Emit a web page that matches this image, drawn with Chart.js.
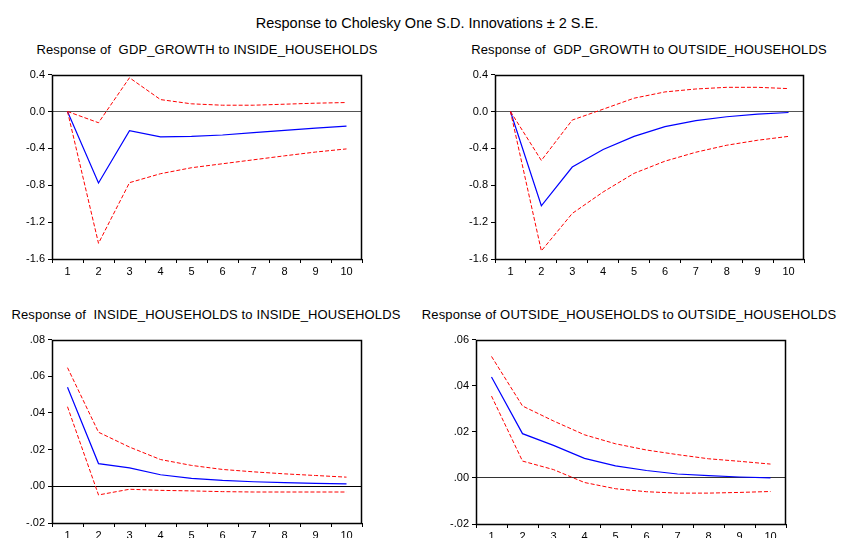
<!DOCTYPE html>
<html>
<head>
<meta charset="utf-8">
<script src="https://cdn.jsdelivr.net/npm/chart.js@4/dist/chart.umd.min.js"></script>
<style>
  html, body { margin: 0; padding: 0; background: #fff; }
  body { width: 841px; height: 538px; position: relative; overflow: hidden; font-family: "Liberation Sans", Arial, sans-serif; }
  .title { position: absolute; width: 500px; text-align: center; color: #000; white-space: pre; }
  .sub { font-size: 13px; line-height: 16px; letter-spacing: 0.15px; }
  canvas { position: absolute; }
</style>
</head>
<body>
<div class="title" style="left:177px; top:14px; font-size:14.5px; line-height:18px;">Response to Cholesky One S.D. Innovations ± 2 S.E.</div>
<div class="title sub" style="left:-43px; top:42px;">Response of  GDP_GROWTH to INSIDE_HOUSEHOLDS</div>
<div class="title sub" style="left:399px; top:42px;">Response of  GDP_GROWTH to OUTSIDE_HOUSEHOLDS</div>
<div class="title sub" style="left:-44px; top:307px;">Response of  INSIDE_HOUSEHOLDS to INSIDE_HOUSEHOLDS</div>
<div class="title sub" style="left:379px; top:307px;">Response of OUTSIDE_HOUSEHOLDS to OUTSIDE_HOUSEHOLDS</div>
<canvas id="c1"></canvas>
<canvas id="c2"></canvas>
<canvas id="c3"></canvas>
<canvas id="c4"></canvas>
<script>
// periods
const periods = ['1', '2', '3', '4', '5', '6', '7', '8', '9', '10'];

// GDP_GROWTH to INSIDE_HOUSEHOLDS
const gdpInside = [0, -0.776, -0.208, -0.276, -0.270, -0.255, -0.230, -0.205, -0.180, -0.158];
const gdpInsideUp = [0, -0.122, 0.366, 0.129, 0.083, 0.068, 0.068, 0.079, 0.090, 0.097];
const gdpInsideLo = [0, -1.430, -0.772, -0.675, -0.610, -0.567, -0.524, -0.481, -0.440, -0.406];

// GDP_GROWTH to OUTSIDE_HOUSEHOLDS
const gdpOutside = [0, -1.023, -0.603, -0.413, -0.270, -0.165, -0.100, -0.057, -0.029, -0.011];
const gdpOutsideUp = [0, -0.531, -0.093, 0.025, 0.144, 0.212, 0.244, 0.262, 0.262, 0.248];
const gdpOutsideLo = [0, -1.512, -1.106, -0.873, -0.671, -0.539, -0.442, -0.366, -0.312, -0.270];

// INSIDE_HOUSEHOLDS to INSIDE_HOUSEHOLDS
const inIn = [0.0540, 0.0124, 0.0101, 0.0063, 0.0043, 0.0032, 0.0025, 0.0020, 0.0016, 0.0013];
const inInUp = [0.0647, 0.0295, 0.0214, 0.0146, 0.0114, 0.0092, 0.0079, 0.0068, 0.0059, 0.0050];
const inInLo = [0.0434, -0.0047, -0.0016, -0.0022, -0.0025, -0.0029, -0.0031, -0.0031, -0.0031, -0.0031];

// OUTSIDE_HOUSEHOLDS to OUTSIDE_HOUSEHOLDS
const outOut = [0.0438, 0.0192, 0.0141, 0.0085, 0.0052, 0.0032, 0.0017, 0.0010, 0.0004, 0.0000];
const outOutUp = [0.0527, 0.0312, 0.0247, 0.0187, 0.0148, 0.0121, 0.0101, 0.0083, 0.0072, 0.0060];
const outOutLo = [0.0355, 0.0073, 0.0036, -0.0020, -0.0047, -0.0060, -0.0066, -0.0066, -0.0063, -0.0059];

// y axis ranges
const gdpTicks = { min: -1.6, max: 0.4, step: 0.4, digits: 1 };
const inTicks = { min: -0.02, max: 0.08, step: 0.02, digits: 2 };
const outTicks = { min: -0.02, max: 0.06, step: 0.02, digits: 2 };

const Y_W = 45, PAD_TOP = 8, X_H = 25, PAD_R = 2;

// kotak hitam di sekitar area plot
const boxPlugin = {
    id: 'box',
    afterDraw(chart) {
        const a = chart.chartArea, c = chart.ctx;
        c.save();
        c.strokeStyle = '#000';
        c.lineWidth = 1.5;
        c.strokeRect(Math.round(a.left) + 0.5, Math.round(a.top) + 0.5,
            Math.round(a.right - a.left) - 1, Math.round(a.bottom - a.top));
        c.restore();
    }
};

function makePanel(id, plotLeft, plotTop, plotW, plotH, resp, up, lo, t, zeroColor) {
    const cv = document.getElementById(id);
    cv.width = Y_W + plotW + PAD_R;
    cv.height = PAD_TOP + plotH + X_H;
    cv.style.left = (plotLeft - Y_W) + 'px';
    cv.style.top = (plotTop - PAD_TOP) + 'px';
    const band = (data) => ({
        data: data,
        borderColor: '#ff0000',
        borderWidth: 1,
        borderDash: [4, 2],
        pointRadius: 0,
        tension: 0
    });
    const fmt = (v) => {
        let s = Number(v).toFixed(t.digits);
        if (t.digits > 1) s = s.replace('0.', '.');
        return s;
    };
    return new Chart(cv.getContext('2d'), {
        type: 'line',
        data: {
            labels: periods,
            datasets: [
                band(up),
                band(lo),
                { data: resp, borderColor: '#0000ff', borderWidth: 1.2, pointRadius: 0, tension: 0 }
            ]
        },
        options: {
            responsive: false,
            animation: false,
            devicePixelRatio: 1,
            layout: { padding: { top: PAD_TOP, right: PAD_R, left: 0, bottom: 0 } },
            plugins: { legend: { display: false }, tooltip: { enabled: false } },
            scales: {
                x: {
                    type: 'category',
                    offset: true,
                    border: { display: false },
                    grid: { offset: true, drawOnChartArea: false, tickLength: 4, tickColor: '#000', tickWidth: 1 },
                    ticks: { color: '#000', font: { family: 'Liberation Sans', size: 11 }, padding: 2, maxRotation: 0, autoSkip: false },
                    afterFit: (s) => { s.height = X_H; }
                },
                y: {
                    min: t.min,
                    max: t.max,
                    border: { display: false },
                    grid: {
                        color: (ctx) => (ctx.tick && Math.abs(ctx.tick.value) < 1e-9) ? zeroColor : 'rgba(0,0,0,0)',
                        tickColor: '#000',
                        tickLength: 4,
                        lineWidth: 1
                    },
                    ticks: {
                        stepSize: t.step,
                        color: '#000',
                        font: { family: 'Liberation Sans', size: 11 },
                        padding: 3,
                        callback: fmt
                    },
                    afterFit: (s) => { s.width = Y_W; }
                }
            }
        },
        plugins: [boxPlugin]
    });
}

makePanel('c1', 52, 73, 310, 186, gdpInside, gdpInsideUp, gdpInsideLo, gdpTicks, '#555');
makePanel('c2', 495, 73, 309, 186, gdpOutside, gdpOutsideUp, gdpOutsideLo, gdpTicks, '#555');
makePanel('c3', 52, 338, 310, 185, inIn, inInUp, inInLo, inTicks, '#000');
makePanel('c4', 476, 338, 310, 186, outOut, outOutUp, outOutLo, outTicks, '#333');
</script>
</body>
</html>
